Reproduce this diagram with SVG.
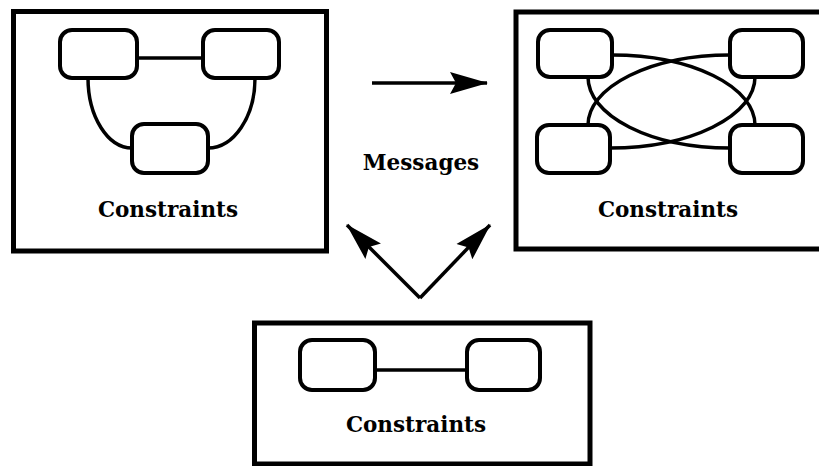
<svg xmlns="http://www.w3.org/2000/svg" width="819" height="466" viewBox="0 0 819 466">
<style>
.frame{fill:none;stroke:#000;stroke-width:5}
.node{fill:#fff;stroke:#000;stroke-width:4}
.edge{fill:none;stroke:#000;stroke-width:3.5}
.arrow{fill:none;stroke:#000;stroke-width:3.5}
.lbl{font-family:"DejaVu Serif","Liberation Serif",serif;font-weight:bold;font-size:21.5px;fill:#000;text-anchor:middle}
</style>
<defs>
<marker id="ah" markerUnits="userSpaceOnUse" markerWidth="40" markerHeight="24" refX="37" refY="11" orient="auto" viewBox="0 0 40 22">
<path d="M0,0 L38,11 L0,22 L6,11 Z" fill="#000"/>
</marker>
</defs>
<rect width="819" height="466" fill="#fff"/>

<g id="connectors">
<line class="edge" x1="137" y1="58" x2="203" y2="58"/>
<path class="edge" d="M88,78 A44,70 0 0 0 132,148"/>
<path class="edge" d="M255,78 A47,70 0 0 1 208,148"/>
<path class="edge" d="M612,55 A143,70 0 0 1 755,125"/>
<path class="edge" d="M730,55 A142,70 0 0 0 588,125"/>
<path class="edge" d="M588,77 A142,71 0 0 0 730,148"/>
<path class="edge" d="M755,77 A145,71 0 0 1 610,148"/>
<line class="edge" x1="375" y1="370" x2="467" y2="370"/>
<line class="arrow" x1="372" y1="83" x2="487" y2="83" marker-end="url(#ah)"/>
<line class="arrow" x1="420" y1="298" x2="347" y2="225" marker-end="url(#ah)"/>
<line class="arrow" x1="420" y1="298" x2="490" y2="225" marker-end="url(#ah)"/>
</g>

<g id="box-left">
<rect class="frame" x="13.5" y="11.5" width="313" height="239.5"/>
<rect class="node" x="60" y="30" width="77" height="48" rx="12"/>
<rect class="node" x="203" y="30" width="76" height="48" rx="12"/>
<rect class="node" x="132" y="124" width="76" height="49" rx="12"/>
<text class="lbl" x="168" y="217">Constraints</text>
</g>

<g id="box-right">
<rect class="frame" x="516" y="12" width="320" height="237"/>
<rect class="node" x="538" y="30" width="74" height="47" rx="12"/>
<rect class="node" x="730" y="30" width="73" height="47" rx="12"/>
<rect class="node" x="537" y="125" width="73" height="48" rx="12"/>
<rect class="node" x="730" y="125" width="73" height="48" rx="12"/>
<text class="lbl" x="668" y="217">Constraints</text>
</g>

<g id="box-bottom">
<rect class="frame" x="254.5" y="323" width="335.5" height="141"/>
<rect class="node" x="300" y="340" width="75" height="50" rx="12"/>
<rect class="node" x="467" y="340" width="73" height="50" rx="12"/>
<text class="lbl" x="416" y="432">Constraints</text>
</g>

<g id="messages-label">
<text class="lbl" x="421" y="170">Messages</text>
</g>
</svg>
